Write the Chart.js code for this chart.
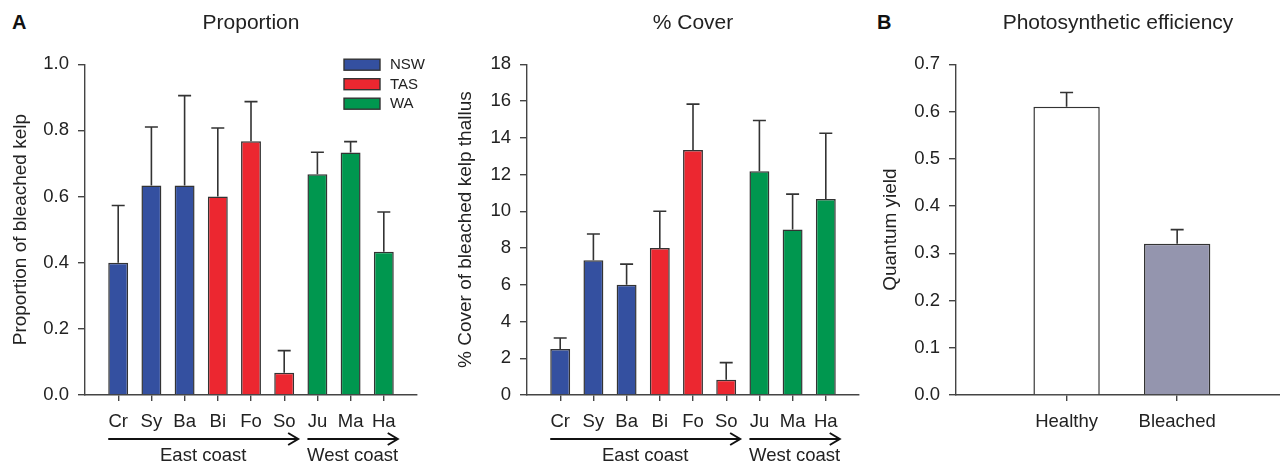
<!DOCTYPE html>
<html><head><meta charset="utf-8">
<script src="https://cdn.jsdelivr.net/npm/chart.js@4.4.1/dist/chart.umd.min.js"></script>
<style>
html,body{margin:0;padding:0;background:#fff;width:1280px;height:466px;overflow:hidden;}
.panel{position:absolute;top:0;height:466px;}
.lbl{position:absolute;top:11px;font:bold 20px 'Liberation Sans',Arial,sans-serif;color:#111;}
</style></head><body>
<div class="lbl" style="left:12px">A</div>
<div class="lbl" style="left:877px">B</div>
<div class="panel" style="left:0;width:430px"><canvas id="c1"></canvas></div>
<div class="panel" style="left:445px;width:430px"><canvas id="c2"></canvas></div>
<div class="panel" style="left:870px;width:410px"><canvas id="c3"></canvas></div>
<script>
// ---- data ----
const sites = ['Cr','Sy','Ba','Bi','Fo','So','Ju','Ma','Ha'];
const siteRegion = ['NSW','NSW','NSW','TAS','TAS','TAS','WA','WA','WA'];
const regions = ['NSW','TAS','WA'];
const regionColors = ['#3450a0','#ec2730','#00974f'];
const proportion = [0.400,0.633,0.633,0.600,0.767,0.067,0.667,0.733,0.433];
const proportionSE = [0.173,0.177,0.272,0.207,0.120,0.067,0.067,0.033,0.120];
const cover = [2.50,7.33,6.00,8.00,13.33,0.83,12.17,9.00,10.67];
const coverSE = [0.60,1.43,1.12,2.00,2.50,0.93,2.77,1.93,3.57];
const coasts = ['East coast','West coast'];
const coastFirstSite = [0,6];
const coastLastSite = [5,8];
const conditions = ['Healthy','Bleached'];
const quantumYield = [0.61,0.32];
const quantumYieldSE = [0.03,0.03];
const conditionColors = ['#ffffff','#9495ae'];

Chart.defaults.font.family = "'Liberation Sans', Arial, sans-serif";
Chart.defaults.color = '#222';
Chart.defaults.animation = false;

const AXIS = '#444';
const errorBars = {
  id:'errorBars',
  afterDatasetsDraw(chart){
    const ctx = chart.ctx, ys = chart.scales.y;
    ctx.save(); ctx.strokeStyle = '#333'; ctx.lineWidth = 1.6;
    chart.data.datasets.forEach((ds,di)=>{
      const meta = chart.getDatasetMeta(di);
      meta.data.forEach((bar,i)=>{
        const p = ds.data[i];
        const top = ys.getPixelForValue(p.y + p.se);
        ctx.beginPath();
        ctx.moveTo(bar.x, bar.y); ctx.lineTo(bar.x, top);
        ctx.moveTo(bar.x-6.5, top); ctx.lineTo(bar.x+6.5, top);
        ctx.stroke();
      });
    });
    ctx.restore();
  }
};
const coastArrows = {
  id:'coastArrows',
  afterDraw(chart){
    const xs = chart.scales.x, ctx = chart.ctx, b = chart.chartArea.bottom;
    const y = b + 44;
    ctx.save();
    ctx.strokeStyle = '#111'; ctx.lineWidth = 2; ctx.fillStyle = '#222';
    ctx.font = "18.5px 'Liberation Sans', Arial, sans-serif";
    ctx.textAlign = 'center'; ctx.textBaseline = 'middle';
    coasts.forEach((name,k)=>{
      const x0 = xs.getPixelForValue(coastFirstSite[k] + 1 - 0.3);
      const x1 = xs.getPixelForValue(coastLastSite[k] + 1 + 0.42);
      ctx.beginPath(); ctx.moveTo(x0,y); ctx.lineTo(x1,y); ctx.stroke();
      ctx.beginPath(); ctx.moveTo(x1-10,y-6); ctx.lineTo(x1,y); ctx.lineTo(x1-10,y+6); ctx.stroke();
      ctx.fillText(name, (x0+x1)/2, b + 61);
    });
    ctx.restore();
  }
};
const insideLegend = {
  id:'insideLegend',
  afterDraw(chart){
    const ctx = chart.ctx, ca = chart.chartArea;
    ctx.save();
    ctx.font = "15px 'Liberation Sans', Arial, sans-serif";
    ctx.textBaseline = 'middle'; ctx.textAlign = 'left';
    chart.data.datasets.forEach((ds,i)=>{
      const x = ca.right - 73, y = ca.top - 5 + i*19.5;
      ctx.fillStyle = ds.backgroundColor; ctx.fillRect(x, y, 36, 11);
      ctx.strokeStyle = '#333'; ctx.lineWidth = 1.4; ctx.strokeRect(x, y, 36, 11);
      ctx.fillStyle = '#222'; ctx.fillText(ds.label, x + 46, y + 6);
    });
    ctx.restore();
  }
};

function yAxis(title, max, step, width, fmt){
  return {
    min:0, max:max,
    afterFit(s){ s.width = width; },
    ticks:{stepSize:step, font:{size:18.5}, padding:9, color:'#222', callback:fmt},
    grid:{drawOnChartArea:false, drawTicks:true, tickLength:7, color:AXIS, lineWidth:1.4},
    border:{display:true, color:AXIS, width:1.4},
    title:{display:true, text:title, font:{size:19}, padding:{top:9,bottom:0}, color:'#222'}
  };
}
function xAxis(labels, max){
  return {
    type:'linear', min:0, max:max, offset:false,
    afterFit(s){ s.height = 71; },
    afterBuildTicks(s){ s.ticks = labels.map((l,i)=>({value:i+1})); },
    ticks:{autoSkip:false, maxRotation:0, font:{size:18.5}, padding:10, color:'#222',
      callback:(v)=>labels[Math.round(v)-1] ?? ''},
    grid:{drawOnChartArea:false, drawTicks:true, tickLength:6, color:AXIS, lineWidth:1.4, offset:false},
    border:{display:true, color:AXIS, width:1.4}
  };
}
function siteDatasets(values, se){
  return regions.map((r,ri)=>({
    label:r,
    data: sites.map((s,i)=>({x:i+1, y:values[i], se:se[i], r:siteRegion[i]})).filter(p=>p.r===r),
    backgroundColor: regionColors[ri], borderColor:'#333', borderWidth:1.5,
    grouped:false, categoryPercentage:1, barPercentage:0.6
  }));
}
function siteChart(id, title, ytitle, values, se, ymax, ystep, ywidth, padRight, fmt, legend){
  return new Chart(document.getElementById(id), {
    type:'bar',
    data:{datasets: siteDatasets(values, se)},
    options:{
      responsive:true, maintainAspectRatio:false,
      layout:{padding:{left:0, right:padRight, top:0, bottom:0}},
      plugins:{
        legend:{display:false}, tooltip:{enabled:false},
        title:{display:true, text:title, font:{size:21, weight:'normal'}, color:'#222', padding:{top:11,bottom:28}, fullSize:false}
      },
      scales:{ x: xAxis(sites, sites.length+1), y: yAxis(ytitle, ymax, ystep, ywidth, fmt) }
    },
    plugins: legend ? [errorBars, coastArrows, insideLegend] : [errorBars, coastArrows]
  });
}
siteChart('c1','Proportion','Proportion of bleached kelp', proportion, proportionSE, 1.0, 0.2, 85, 13, v=>v.toFixed(1), true);
siteChart('c2','% Cover','% Cover of bleached kelp thallus', cover, coverSE, 18, 2, 82, 16, v=>String(v), false);

new Chart(document.getElementById('c3'), {
  type:'bar',
  data:{datasets:[{
    label:'Quantum yield',
    data: conditions.map((c,i)=>({x:i+1, y:quantumYield[i], se:quantumYieldSE[i]})),
    backgroundColor: conditionColors, borderColor:'#333', borderWidth:1.5,
    categoryPercentage:1, barPercentage:0.6
  }]},
  options:{
    responsive:true, maintainAspectRatio:false,
    layout:{padding:{left:0,right:0,top:0,bottom:0}},
    plugins:{
      legend:{display:false}, tooltip:{enabled:false},
      title:{display:true, text:'Photosynthetic efficiency', font:{size:21, weight:'normal'}, color:'#222', padding:{top:11,bottom:28}, fullSize:false}
    },
    scales:{ x: xAxis(conditions, 2.93), y: yAxis('Quantum yield', 0.7, 0.1, 86, v=>v.toFixed(1)) }
  },
  plugins:[errorBars]
});
</script>
</body></html>
